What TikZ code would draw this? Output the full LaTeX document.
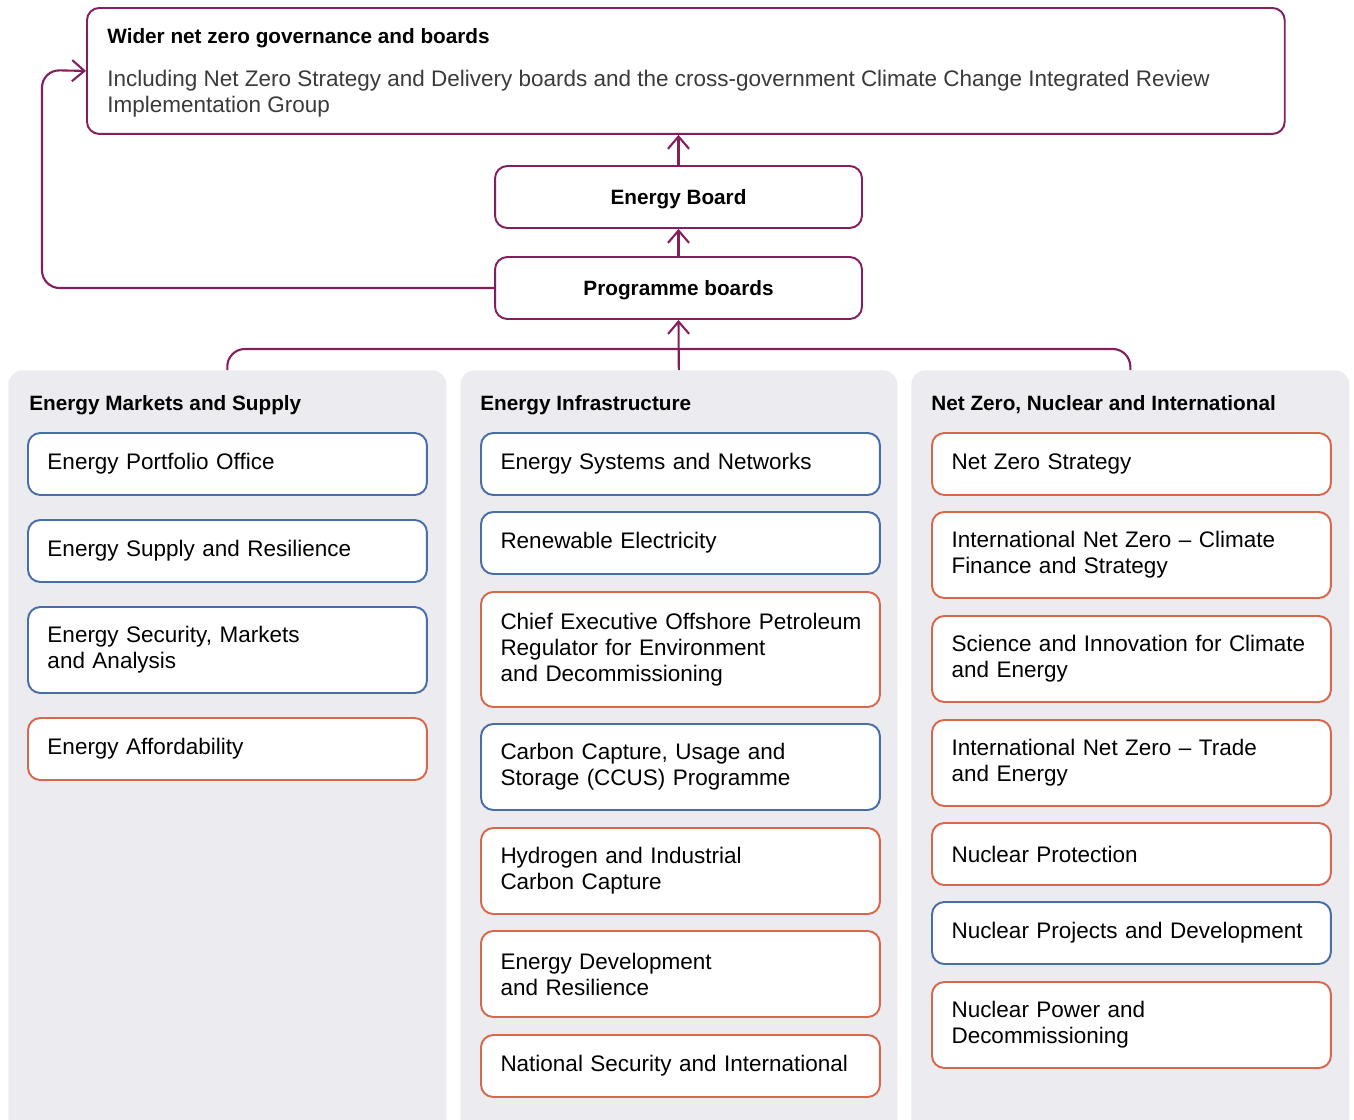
\documentclass[tikz,border=0pt]{standalone}
\usepackage{fontspec}
\setmainfont{Liberation Sans}
\usepackage{tikz}
\usetikzlibrary{arrows.meta,positioning,calc}
\usepackage{xcolor}

\definecolor{plum}{RGB}{133,30,92}
\definecolor{ublue}{RGB}{72,110,168}
\definecolor{uorange}{RGB}{216,104,76}
\definecolor{panelgrey}{RGB}{235,235,240}
\definecolor{desc}{RGB}{58,58,58}

\tikzset{
	link/.style={draw=plum, line width=1.2pt},
	tip/.style={-{Straight Barb[length=7pt,width=12pt,line width=1.2pt]}},
	board/.style={draw=plum, line width=1.1pt, rounded corners=7pt, fill=white,
		font=\fontsize{11.8}{14}\selectfont\bfseries, minimum width=7.34cm, minimum height=1.24cm,
		inner sep=0pt, text depth=0pt},
	panel/.style={fill=panelgrey, rounded corners=8pt, anchor=north west, minimum height=15.4cm, inner sep=0pt},
	coltitle/.style={anchor=west, font=\fontsize{11.8}{14}\selectfont\bfseries, inner sep=0pt},
	unit/.style={fill=white, line width=1.1pt, rounded corners=7pt, anchor=north west, align=left,
		text width=7.2cm, inner xsep=0.39cm, inner ysep=0pt, outer sep=0pt},
	bunit/.style={unit, draw=ublue},
	ounit/.style={unit, draw=uorange},
	h1/.style={minimum height=1.24cm},
	h2/.style={minimum height=1.72cm},
	h3/.style={minimum height=2.3cm}
}

\begin{document}
\begin{tikzpicture}[x=0.02cm, y=-0.02cm, font=\fontsize{12.8}{14.8}\selectfont]
		\useasboundingbox (0,0) rectangle (1354,1119);
		% top of the governance chain
		\node[draw=plum, line width=1.1pt, rounded corners=7pt, anchor=north west,
			minimum width=23.96cm, minimum height=2.52cm, inner sep=0pt] (wider) at (86,7) {};
		\node[coltitle] (widertitle) at (107,38) {Wider net zero governance and boards};
		\node[anchor=west, align=left, inner sep=0pt, text=desc] (widertext) at (107,94)
			{Including Net Zero Strategy and Delivery boards and the cross-government Climate Change Integrated Review\\Implementation Group};
		\node[board] (eb) at (678.5,197) {Energy Board};
		\node[board] (pb) at (678.5,288) {Programme boards};
		\coordinate (loop) at (42,70);
		\coordinate (bar) at (678.5,349);
		
		% the three groups
		\node[panel, minimum width=8.76cm] (mkt) at (8,370) {};
		\node[panel, minimum width=8.74cm] (infra) at (460,370) {};
		\node[panel, minimum width=8.76cm] (nzi) at (911,370) {};
		\node[coltitle] (mkttitle) at (29,405) {Energy Markets and Supply};
		\node[coltitle] (infratitle) at (480,405) {Energy Infrastructure};
		\node[coltitle] (nzititle) at (931,405) {Net Zero, Nuclear and International};
		
		% connectors
		\draw[link, tip] (eb.north) -- (eb.north |- wider.south);
		\draw[link, tip] (pb.north) -- (eb.south);
		\draw[link, tip, rounded corners=10pt] (pb.west) -| (loop) -- (wider.west);
		\draw[link, rounded corners=10pt] (mkt.north) |- (bar) -| (nzi.north);
		\draw[link, tip] (infra.north) -- (pb.south);
		
		% Energy Markets and Supply
		\node[bunit, h1] (epo) at (28,433) {Energy Portfolio Office};
		\node[bunit, h1] (esr) at (28,520) {Energy Supply and Resilience};
		\node[bunit, h2] (esma) at (28,607) {Energy Security, Markets\\and Analysis};
		\node[ounit, h1] (eaf) at (28,718) {Energy Affordability};
		
		% Energy Infrastructure
		\node[bunit, h1] (esn) at (481,433) {Energy Systems and Networks};
		\node[bunit, h1] (rel) at (481,512) {Renewable Electricity};
		\node[ounit, h3] (opred) at (481,592) {\mbox{Chief Executive Offshore Petroleum}\\Regulator for Environment\\and Decommissioning};
		\node[bunit, h2] (ccus) at (481,724) {Carbon Capture, Usage and\\Storage (CCUS) Programme};
		\node[ounit, h2] (hicc) at (481,828) {Hydrogen and Industrial\\Carbon Capture};
		\node[ounit, h2] (edr) at (481,931) {Energy Development\\and Resilience};
		\node[ounit, h1] (nsi) at (481,1035) {National Security and International};
		
		% Net Zero, Nuclear and International
		\node[ounit, h1] (nzs) at (932,433) {Net Zero Strategy};
		\node[ounit, h2] (inzcf) at (932,512) {International Net Zero -- Climate\\Finance and Strategy};
		\node[ounit, h2] (sice) at (932,616) {Science and Innovation for Climate\\and Energy};
		\node[ounit, h2] (inzte) at (932,720) {International Net Zero -- Trade\\and Energy};
		\node[ounit, h1] (np) at (932,823) {Nuclear Protection};
		\node[bunit, h1] (npd) at (932,902) {Nuclear Projects and Development};
		\node[ounit, h2] (npwd) at (932,982) {Nuclear Power and\\Decommissioning};
\end{tikzpicture}
\end{document}
